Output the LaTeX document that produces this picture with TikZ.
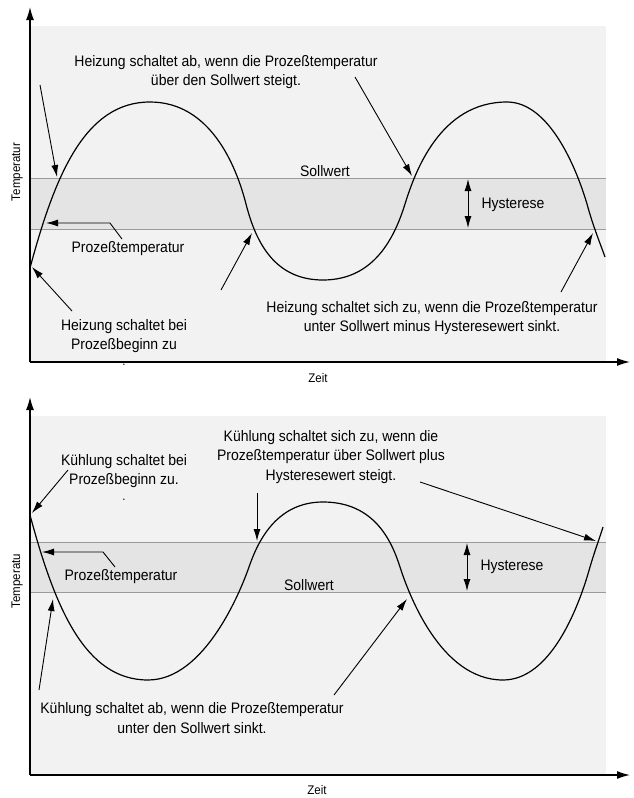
\documentclass[tikz,border=0pt]{standalone}
\usepackage{fontspec}
\setmainfont{Liberation Sans}[FakeStretch=0.92]
\usetikzlibrary{arrows.meta}
\definecolor{bgA}{HTML}{F2F2F2}
\definecolor{bandA}{HTML}{E4E4E4}
\definecolor{lineA}{HTML}{9A9A9A}
\tikzset{
  lbl/.style={font=\fontsize{15.2}{19.5}\selectfont, align=center, inner sep=0pt},
  small/.style={font=\fontsize{12.5}{15}\selectfont, inner sep=0pt},
  arr/.style={-{Latex[length=12pt,width=7pt]}, line width=0.9pt},
  darr/.style={{Latex[length=12pt,width=7pt]}-{Latex[length=12pt,width=7pt]}, line width=0.9pt},
  axis/.style={-{Latex[length=13pt,width=8pt]}, line width=1.3pt},
  curve/.style={line width=1.2pt},
  refline/.style={draw=lineA, line width=1pt},
}
\begin{document}
\begin{tikzpicture}[x=1pt,y=-1pt]
\useasboundingbox (0,0) rectangle (633,798);

% ================= TOP CHART =================
\fill[bgA] (30,26) rectangle (606,362);
\fill[bandA] (30,178) rectangle (606,229);
\draw[refline] (30,178) -- (606,178);
\draw[refline] (30,229) -- (606,229);

\coordinate (t0) at (30,362);
\coordinate (tY) at (30,7);
\coordinate (tX) at (630,362);
\draw[axis] (t0) -- (tY);
\draw[axis] (t0) -- (tX);

\draw[curve] (30,268) .. controls (55,175) and (85,102) .. (150,102)
  .. controls (210,102) and (236,165) .. (246,204)
  .. controls (256,243) and (275,280) .. (323,280)
  .. controls (375,280) and (395,236) .. (405,204)
  .. controls (415,172) and (440,102) .. (507,102)
  .. controls (550,102) and (577,170) .. (587,204)
  .. controls (593,226) and (600,243) .. (605,257);

\node[lbl] (tSoll) at (325,171) {Sollwert};
\node[lbl] (tHyst) at (513,205) {Hysterese};
\coordinate (tHa) at (468,179);
\coordinate (tHb) at (468,228);
\draw[darr] (tHa) -- (tHb);

\node[small, rotate=90] (tTemp) at (17,172) {Temperatur};
\node[small] (tZeit) at (318,378) {Zeit};
\node[small] (tDot) at (124,365) {.};

\node[lbl] (tAb) at (226,72) {Heizung schaltet ab, wenn die Prozeßtemperatur\\über den Sollwert steigt.};
\coordinate (tAbS1) at (40,85);
\coordinate (tAbE1) at (57,177);
\coordinate (tAbS2) at (355,77);
\coordinate (tAbE2) at (412,176);
\draw[arr] (tAbS1) -- (tAbE1);
\draw[arr] (tAbS2) -- (tAbE2);

\node[lbl] (tPT) at (128,249) {Prozeßtemperatur};
\coordinate (tPTs) at (122,239);
\coordinate (tPTb) at (110,223);
\coordinate (tPTe) at (46,223);
\draw[arr] (tPTs) -- (tPTb) -- (tPTe);

\node[lbl] (tBeg) at (124,336) {Heizung schaltet bei\\Prozeßbeginn zu};
\coordinate (tBegS) at (72,311);
\coordinate (tBegE) at (32,267);
\draw[arr] (tBegS) -- (tBegE);

\node[lbl] (tZu) at (432,318) {Heizung schaltet sich zu, wenn die Prozeßtemperatur\\unter Sollwert minus Hysteresewert sinkt.};
\coordinate (tZuS1) at (221,290);
\coordinate (tZuE1) at (252,233);
\coordinate (tZuS2) at (561,292);
\coordinate (tZuE2) at (593,233);
\draw[arr] (tZuS1) -- (tZuE1);
\draw[arr] (tZuS2) -- (tZuE2);

% ================= BOTTOM CHART =================
\fill[bgA] (30,416) rectangle (606,775);
\fill[bandA] (30,542) rectangle (606,592);
\draw[refline] (30,542) -- (606,542);
\draw[refline] (30,592) -- (606,592);

\coordinate (b0) at (30,775);
\coordinate (bY) at (30,397);
\coordinate (bX) at (630,775);
\draw[axis] (b0) -- (bY);
\draw[axis] (b0) -- (bX);

\draw[curve] (30,515) .. controls (55,608) and (85,680) .. (148,680)
  .. controls (205,680) and (241,590) .. (249,567)
  .. controls (257,544) and (275,502) .. (323,502)
  .. controls (375,502) and (392,542) .. (400,567)
  .. controls (408,592) and (440,680) .. (503,680)
  .. controls (550,680) and (578,610) .. (590,567)
  .. controls (595,550) and (600,537) .. (603,527);

\node[lbl] (bSoll) at (309,585) {Sollwert};
\node[lbl] (bHyst) at (512,567) {Hysterese};
\coordinate (bHa) at (467,543);
\coordinate (bHb) at (467,591);
\draw[darr] (bHa) -- (bHb);

\node[small, rotate=90] (bTemp) at (17,581) {Temperatu};
\node[small] (bZeit) at (317,790) {Zeit};
\node[small] (bDot) at (124,500) {.};

\node[lbl] (bBeg) at (124,471) {Kühlung schaltet bei\\Prozeßbeginn zu.};
\coordinate (bBegS) at (68,470);
\coordinate (bBegE) at (32,513);
\draw[arr] (bBegS) -- (bBegE);

\node[lbl] (bZu) at (331,457) {Kühlung schaltet sich zu, wenn die\\Prozeßtemperatur über Sollwert plus\\Hysteresewert steigt.};
\coordinate (bZuS1) at (257,493);
\coordinate (bZuE1) at (257,541);
\coordinate (bZuS2) at (420,482);
\coordinate (bZuE2) at (596,541);
\draw[arr] (bZuS1) -- (bZuE1);
\draw[arr] (bZuS2) -- (bZuE2);

\node[lbl] (bPT) at (121,577) {Prozeßtemperatur};
\coordinate (bPTs) at (115,567);
\coordinate (bPTb) at (103,552);
\coordinate (bPTe) at (42,552);
\draw[arr] (bPTs) -- (bPTb) -- (bPTe);

\node[lbl] (bAb) at (192,718) {Kühlung schaltet ab, wenn die Prozeßtemperatur\\unter den Sollwert sinkt.};
\coordinate (bAbS1) at (39,690);
\coordinate (bAbE1) at (53,599);
\coordinate (bAbS2) at (334,695);
\coordinate (bAbE2) at (407,599);
\draw[arr] (bAbS1) -- (bAbE1);
\draw[arr] (bAbS2) -- (bAbE2);
\end{tikzpicture}
\end{document}
